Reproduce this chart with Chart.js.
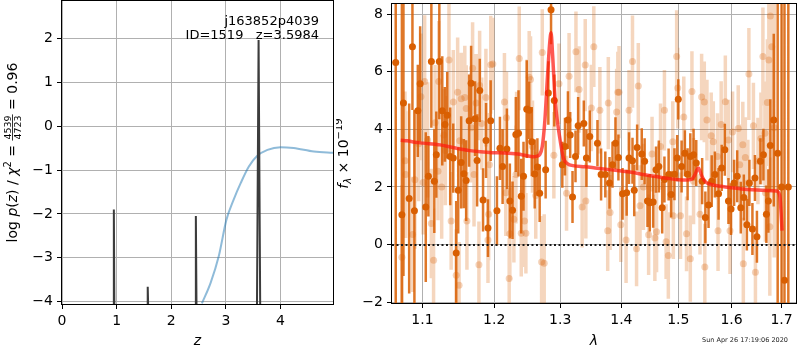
<!DOCTYPE html>
<html>
<head>
<meta charset="utf-8">
<script src="https://cdn.jsdelivr.net/npm/chart.js@4.4.1/dist/chart.umd.min.js"></script>
<style>
  body { margin: 0; background: #fff; }
  #wrap { position: relative; width: 800px; height: 350px; }
  canvas { position: absolute; top: 0; }
</style>
</head>
<body>
<div id="wrap">
  <canvas id="pz" width="336" height="350" style="left:0"></canvas>
  <canvas id="spec" width="464" height="350" style="left:336px"></canvas>
</div>
<script>
// ---- redshift panel ----
const zTicks = [0, 1, 2, 3, 4];
const logpTicks = [-4, -3, -2, -1, 0, 1, 2];
const peakZ = [0.949, 1.569, 2.45, 3.598];
const peakLogP = [-1.90, -3.66, -2.05, 1.96];
const peakWidth = [0.01, 0.01, 0.012, 0.03];
const pFloor = -4.2;
const chiZ = [2.56, 2.72, 2.87, 3.01, 3.14, 3.27, 3.42, 3.57, 3.76, 4.0, 4.24, 4.61, 4.98];
const chiVal = [-4.04, -3.57, -2.96, -2.13, -1.68, -1.30, -0.92, -0.68, -0.54, -0.48, -0.50, -0.58, -0.61];

// ---- spectrum panel ----
const waveTicks = [1.1, 1.2, 1.3, 1.4, 1.5, 1.6, 1.7];
const fluxTicks = [-2, 0, 2, 4, 6, 8];

const darkWave = [
  1.065, 1.073, 1.075, 1.0825, 1.0868, 1.0894, 1.0939, 1.0970, 1.1045, 1.1080,
  1.1120, 1.1160, 1.1187, 1.1228, 1.1268, 1.1305, 1.1336, 1.1377, 1.1419, 1.1460,
  1.1488, 1.1529, 1.1567, 1.1599, 1.1641, 1.1669, 1.1725, 1.1754, 1.1792, 1.1839,
  1.1882, 1.1910, 1.1949, 1.2040, 1.2084, 1.2123, 1.2186, 1.2230, 1.2270, 1.2319,
  1.2359, 1.2400, 1.2434, 1.2483, 1.2520, 1.2559, 1.2604, 1.2645, 1.2680, 1.2772,
  1.2814, 1.2856, 1.2907, 1.3033, 1.3075, 1.3122, 1.3158, 1.3195, 1.3243, 1.3285,
  1.3377, 1.3419, 1.3474, 1.360, 1.366, 1.373, 1.380, 1.385, 1.390, 1.395,
  1.402, 1.409, 1.413, 1.419, 1.422, 1.427, 1.435, 1.440, 1.445, 1.449,
  1.455, 1.460, 1.465, 1.471, 1.475, 1.4825, 1.487, 1.493, 1.498, 1.500,
  1.506, 1.512, 1.517, 1.522, 1.528, 1.533, 1.544, 1.550, 1.556, 1.562,
  1.568, 1.575, 1.581, 1.587, 1.594, 1.599, 1.605, 1.611, 1.618, 1.624,
  1.630, 1.635, 1.641, 1.646, 1.650, 1.657, 1.663, 1.669, 1.673, 1.677,
  1.684, 1.692, 1.700, 1.706, 1.714
];
const darkFlux = [
  6.32, 1.03, 4.91, 1.6, 6.87, 1.17, 4.64, 5.58, 1.30, 2.37,
  6.35, 2.20, 3.12, 6.35, 4.64, 4.17, 4.49, 3.06, 3.00, -0.29,
  1.88, 2.85, 2.46, 2.22, 4.30, 5.60, 4.37, 2.92, 5.35, 1.55,
  3.61, 0.57, 4.30, 1.17, 3.34, 2.71, 3.32, 1.51, 1.19, 3.82,
  3.86, 1.68, 2.37, 4.70, 4.66, 3.57, 2.45, 2.69, 1.78, 2.60,
  5.26, 8.15, 5.00, 2.77, 3.40, 4.32, 3.80, 1.65, 3.06, 4.12,
  4.20, 3.00, 3.75, 3.52, 2.43, 2.43, 2.14, 2.77, 3.52, 3.02,
  1.76, 1.80, 3.00, 2.91, 1.88, 3.37, 3.14, 2.89, 1.51, 1.45,
  1.48, 2.60, 2.71, 1.28, 2.26, 2.43, 1.74, 2.44, 3.00, 5.04,
  2.71, 3.17, 2.44, 3.06, 3.12, 2.83, 2.20, 0.94, 1.37, 2.20,
  2.43, 1.76, 2.66, 3.29, 1.51, 1.23, 2.14, 2.37, 1.28, 1.63,
  0.69, 2.14, 0.54, 2.31, 0.27, 2.89, 3.12, 1.05, 1.51, 3.44,
  4.32, 3.17, 2.0, -1.24, 2.0
];
const darkErr = [
  12, 9, 6, 3.3, 2.2, 3.5, 1.6, 2.0, 2.6, 1.4,
  2.3, 1.8, 1.5, 2.0, 1.9, 1.3, 1.5, 1.7, 1.2, 1.8,
  1.5, 1.6, 1.2, 1.4, 1.6, 1.3, 1.3, 1.6, 1.1, 1.1,
  1.3, 1.0, 1.4, 1.2, 1.1, 1.3, 1.4, 1.3, 1.0, 1.3,
  1.5, 1.3, 1.2, 1.7, 1.0, 1.2, 1.2, 1.0, 1.0, 1.0,
  1.1, 1.2, 0.9, 0.8, 1.0, 1.0, 0.8, 0.9, 0.9, 1.0,
  0.8, 1.0, 0.9, 0.8, 0.9, 0.8, 0.9, 0.8, 0.9, 0.8,
  0.9, 0.8, 0.9, 0.8, 0.9, 0.8, 0.9, 0.8, 0.9, 1.0,
  0.9, 0.8, 0.9, 0.9, 0.8, 0.9, 0.8, 0.9, 0.8, 0.7,
  0.9, 0.8, 0.9, 0.8, 0.9, 0.8, 0.8, 0.9, 0.8, 0.9,
  0.8, 0.9, 0.8, 0.9, 0.8, 0.9, 0.8, 0.9, 0.9, 0.8,
  0.9, 0.8, 0.9, 0.8, 0.9, 0.8, 0.9, 1.0, 1.1, 1.6,
  3.0, 6, 9, 10, 12
];

const lightWave = [
  1.073, 1.077, 1.078, 1.087, 1.090, 1.095, 1.098, 1.101, 1.103, 1.107,
  1.112, 1.115, 1.117, 1.121, 1.122, 1.126, 1.129, 1.131, 1.136, 1.139,
  1.142, 1.146, 1.148, 1.150, 1.151, 1.153, 1.158, 1.160, 1.161, 1.167,
  1.169, 1.171, 1.174, 1.178, 1.179, 1.182, 1.188, 1.191, 1.192, 1.193,
  1.195, 1.198, 1.215, 1.217, 1.218, 1.222, 1.223, 1.229, 1.232, 1.233,
  1.237, 1.240, 1.245, 1.247, 1.249, 1.252, 1.254, 1.257, 1.262, 1.271,
  1.272, 1.275, 1.290, 1.298, 1.310, 1.314, 1.325, 1.330, 1.335, 1.340,
  1.341, 1.350, 1.354, 1.364, 1.377, 1.378, 1.381, 1.392, 1.394, 1.396,
  1.399, 1.408, 1.413, 1.419, 1.426, 1.429, 1.432, 1.438, 1.447, 1.453,
  1.458, 1.461, 1.468, 1.475, 1.478, 1.482, 1.490, 1.491, 1.497, 1.499,
  1.504, 1.510, 1.515, 1.522, 1.525, 1.528, 1.540, 1.543, 1.548, 1.549,
  1.553, 1.561, 1.565, 1.573, 1.574, 1.580, 1.588, 1.594, 1.597, 1.602,
  1.613, 1.616, 1.622, 1.623, 1.627, 1.632, 1.634, 1.643, 1.647, 1.652,
  1.658, 1.662, 1.666, 1.667, 1.671, 1.674, 1.676, 1.677, 1.680, 1.685
];
const lightFlux = [
  -0.44, 2.91, 2.43, 0.35, 2.25, 3.50, 5.13, 2.15, 5.66, 3.63,
  0.73, -0.55, 4.23, 2.54, 5.66, 2.00, 3.80, 3.26, 6.41, 0.82,
  4.95, -1.07, 5.29, -1.41, 3.60, 5.06, 5.10, 4.72, 0.82, 4.05,
  6.12, 2.43, 4.91, -0.70, 5.52, 4.20, 5.10, 0.16, 1.05, 2.77,
  6.24, 6.27, 4.95, 1.80, 4.40, -1.18, 0.37, 0.88, 2.43, 3.80,
  6.46, 0.39, 0.82, 0.39, 4.72, 5.81, 5.73, 3.40, 1.70, -0.61,
  6.67, -0.65, 3.10, 5.58, 1.78, 5.84, 6.69, 5.38, 1.30, 6.23,
  1.51, 4.74, 6.87, 4.66, 0.48, 4.91, 1.11, 4.60, 5.29, 5.29,
  0.69, 0.16, 4.66, 6.35, -0.15, 5.50, 1.35, 2.00, 0.34, 3.14,
  0.23, 0.44, 3.40, 4.66, 0.10, -0.38, 3.57, 1.00, 6.53, 5.43,
  1.00, 4.43, 0.37, -0.49, 5.31, 2.20, 1.05, 5.12, 4.95, -0.78,
  4.32, 3.78, 3.57, 3.06, 0.48, 4.17, 4.96, 3.63, 0.48, 3.91,
  4.03, 2.77, 3.46, -0.67, 3.02, 2.14, 5.92, 4.12, -0.96, 2.90,
  3.68, 6.53, 3.86, 1.80, 4.93, 6.41, 0.62, 7.93, 6.87, 4.05
];
const lightErr = [
  2.5, 2.4, 2.2, 2.0, 2.4, 2.0, 2.2, 1.8, 2.3, 2.0,
  1.9, 1.8, 2.0, 1.7, 2.1, 1.8, 1.6, 1.9, 2.0, 1.7,
  1.8, 1.6, 1.9, 1.5, 1.7, 1.6, 1.8, 1.5, 1.7, 1.9,
  1.6, 1.8, 1.7, 1.5, 1.9, 1.6, 1.7, 1.5, 1.6, 1.8,
  1.7, 1.6, 1.7, 1.5, 1.6, 1.4, 1.6, 1.5, 1.7, 1.5,
  1.8, 1.5, 1.6, 1.4, 1.7, 1.6, 1.5, 1.6, 1.5, 1.6,
  1.5, 1.7, 1.5, 1.4, 1.3, 1.5, 1.4, 1.5, 1.4, 1.6,
  1.3, 1.5, 1.4, 1.5, 1.4, 1.6, 1.3, 1.5, 1.4, 1.6,
  1.3, 1.5, 1.4, 1.6, 1.3, 1.5, 1.4, 1.5, 1.4, 1.3,
  1.5, 1.4, 1.5, 1.4, 1.3, 1.5, 1.4, 1.5, 1.6, 1.4,
  1.5, 1.4, 1.3, 1.5, 1.4, 1.5, 1.4, 1.5, 1.4, 1.5,
  1.4, 1.5, 1.4, 1.5, 1.4, 1.5, 1.6, 1.4, 1.5, 1.4,
  1.5, 1.4, 1.5, 1.6, 1.4, 1.5, 1.6, 1.5, 1.6, 1.5,
  1.6, 1.7, 1.8, 1.7, 2.2, 2.5, 2.4, 3.0, 3.5, 4.5
];

const modelWave = [
  1.0715, 1.080, 1.090, 1.101, 1.124, 1.145, 1.165, 1.180, 1.197, 1.215,
  1.235, 1.247, 1.258, 1.264, 1.268, 1.272, 1.276, 1.280, 1.2835, 1.2856,
  1.288, 1.292, 1.296, 1.300, 1.305, 1.312, 1.320, 1.340, 1.356, 1.380,
  1.400, 1.420, 1.440, 1.460, 1.480, 1.500, 1.515, 1.524, 1.530, 1.534,
  1.537, 1.540, 1.544, 1.550, 1.560, 1.580, 1.600, 1.620, 1.640, 1.660,
  1.680, 1.690, 1.694, 1.697, 1.699, 1.701
];
const modelFlux = [
  3.62, 3.60, 3.55, 3.52, 3.46, 3.35, 3.26, 3.22, 3.19, 3.18,
  3.14, 3.09, 3.05, 3.07, 3.12, 3.40, 4.30, 5.80, 7.00, 7.35,
  6.60, 5.00, 4.20, 3.60, 3.00, 2.80, 2.74, 2.70, 2.66, 2.60,
  2.55, 2.50, 2.42, 2.36, 2.30, 2.25, 2.24, 2.26, 2.40, 2.58,
  2.66, 2.55, 2.35, 2.18, 2.09, 2.02, 1.97, 1.93, 1.90, 1.88,
  1.87, 1.86, 1.80, 1.60, 1.10, 0.48
];

const FONT = '"DejaVu Sans", sans-serif';
const font = (size, style) => (style ? style + ' ' : '') + size + 'px ' + FONT;
const minus = v => (v < 0 ? '\u2212' : '') + Math.abs(v);

function points(xs, ys) {
  return xs.map((x, i) => ({ x: x, y: ys[i] }));
}

// vertical error segments, broken apart by null points
function errorSegments(xs, ys, es) {
  const out = [];
  xs.forEach((x, i) => {
    out.push({ x: x, y: ys[i] - es[i] }, { x: x, y: ys[i] + es[i] }, { x: x, y: null });
  });
  return out;
}

function spikes() {
  const out = [];
  peakZ.forEach((z, i) => {
    const w = peakWidth[i];
    out.push({ x: z - w, y: pFloor }, { x: z, y: peakLogP[i] }, { x: z + w, y: pFloor }, { x: z + w, y: null });
  });
  return out;
}

// draws a rotated axis label made of runs of text (sub/superscripts, a small fraction)
function drawRuns(ctx, runs, cx, cy) {
  ctx.save();
  ctx.translate(cx, cy);
  ctx.rotate(-Math.PI / 2);
  ctx.fillStyle = '#000';
  ctx.textBaseline = 'alphabetic';
  let total = 0;
  for (const r of runs) {
    ctx.font = r.font;
    r.w = r.num
      ? Math.max(ctx.measureText(r.num).width, ctx.measureText(r.den).width) + 2
      : ctx.measureText(r.text).width;
    total += r.w;
  }
  let x = -total / 2;
  for (const r of runs) {
    ctx.font = r.font;
    if (r.num) {
      ctx.textAlign = 'center';
      ctx.fillText(r.num, x + r.w / 2, -6);
      ctx.fillText(r.den, x + r.w / 2, 3.6);
      ctx.fillRect(x, -5, r.w, 0.8);
    } else {
      ctx.textAlign = 'left';
      ctx.fillText(r.text, x, r.dy || 0);
    }
    x += r.w;
  }
  ctx.restore();
}

function frame(chart) {
  const { ctx, chartArea: a } = chart;
  ctx.save();
  ctx.strokeStyle = '#000';
  ctx.lineWidth = 1;
  const x0 = Math.round(a.left) - 0.5, y0 = Math.round(a.top) - 0.5;
  const x1 = Math.round(a.right) + 0.5, y1 = Math.round(a.bottom) + 0.5;
  ctx.strokeRect(x0, y0, x1 - x0, y1 - y0);
  ctx.restore();
}

function axis(min, max, ticks, size, type) {
  return {
    type: type || 'linear',
    min: min,
    max: max,
    bounds: 'data',
    afterBuildTicks: s => { s.ticks = ticks.map(v => ({ value: v })); },
    afterFit: s => {
      // fixed axis band, no extra room reserved for edge labels
      if (s.isHorizontal()) s.height = size; else s.width = size;
      s.paddingTop = 0; s.paddingBottom = 0; s.paddingLeft = 0; s.paddingRight = 0;
    },
    ticks: {
      color: '#000',
      font: { family: FONT, size: 14 },
      padding: 4,
      maxRotation: 0,
      autoSkip: false,
      callback: v => minus(v)
    },
    grid: { color: '#b0b0b0', lineWidth: 1, tickColor: '#000', tickLength: 5, drawTicks: true },
    border: { display: false }
  };
}

const baseOptions = {
  responsive: false,
  animation: false,
  events: [],
  plugins: { legend: { display: false }, tooltip: { enabled: false } }
};

const pzChart = new Chart(document.getElementById('pz'), {
  type: 'scatter',
  data: {
    datasets: [
      {
        data: spikes(), showLine: true, spanGaps: false, pointRadius: 0,
        borderColor: '#3c3c3c', borderWidth: 2, borderJoinStyle: 'bevel', order: 0
      },
      {
        data: points(chiZ, chiVal), showLine: true, pointRadius: 0,
        borderColor: 'rgba(31,119,180,0.5)', borderWidth: 2,
        cubicInterpolationMode: 'monotone', order: 1
      }
    ]
  },
  options: {
    ...baseOptions,
    layout: { padding: { top: 1, right: 3, left: 0, bottom: 0 } },
    scales: {
      x: axis(0, 4.96, zTicks, 46),
      y: axis(-4.052, 2.85, logpTicks, 62)
    }
  },
  plugins: [{
    id: 'pzDecor',
    afterDatasetsDraw: frame,
    afterDraw(chart) {
      const ctx = chart.ctx;
      ctx.save();
      ctx.fillStyle = '#000';
      ctx.font = font(13);
      ctx.textAlign = 'right';
      ctx.textBaseline = 'alphabetic';
      ctx.fillText('j163852p4039', 319, 25);
      ctx.fillText('ID=1519   z=3.5984', 319, 38.5);
      ctx.font = font(14, 'italic');
      ctx.textAlign = 'center';
      const a = chart.chartArea;
      ctx.fillText('z', (a.left + a.right) / 2, 345);
      ctx.restore();
      drawRuns(ctx, [
        { text: 'log ', font: font(14) },
        { text: 'p', font: font(14, 'italic') },
        { text: '(', font: font(14) },
        { text: 'z', font: font(14, 'italic') },
        { text: ') / ', font: font(14) },
        { text: '\u03c7', font: font(14, 'italic') },
        { text: '2', font: font(10), dy: -6 },
        { text: ' = ', font: font(14) },
        { num: '4539', den: '4723', font: font(9.5) },
        { text: ' = 0.96', font: font(14) }
      ], 17, (a.top + a.bottom) / 2);
    }
  }]
});

const specChart = new Chart(document.getElementById('spec'), {
  type: 'scatter',
  data: {
    datasets: [
      {
        data: points(modelWave, modelFlux), showLine: true, pointRadius: 0,
        borderColor: 'rgba(255,25,15,0.72)', borderWidth: 3.5,
        cubicInterpolationMode: 'monotone', order: 0
      },
      {
        data: points(darkWave, darkFlux), pointRadius: 3.5, pointBorderWidth: 0,
        backgroundColor: '#d95f02', order: 1
      },
      {
        data: errorSegments(darkWave, darkFlux, darkErr), showLine: true, spanGaps: false,
        pointRadius: 0, borderColor: 'rgba(217,95,2,0.85)', borderWidth: 2.5, order: 2
      },
      {
        data: points(lightWave, lightFlux), pointRadius: 3.5, pointBorderWidth: 0,
        backgroundColor: 'rgba(217,95,2,0.28)', order: 3
      },
      {
        data: errorSegments(lightWave, lightFlux, lightErr), showLine: true, spanGaps: false,
        pointRadius: 0, borderColor: 'rgba(217,95,2,0.26)', borderWidth: 3.5, order: 4
      }
    ]
  },
  options: {
    ...baseOptions,
    layout: { padding: { top: 1, right: 1, left: 0, bottom: 0 } },
    scales: {
      x: {
        ...axis(1.0602, 1.730, waveTicks, 47, 'logarithmic'),
        ticks: {
          color: '#000', font: { family: FONT, size: 14 }, padding: 4,
          maxRotation: 0, autoSkip: false, callback: v => Number(v).toFixed(1)
        }
      },
      y: axis(-2.03, 8.35, fluxTicks, 56)
    }
  },
  plugins: [{
    id: 'specDecor',
    afterDatasetsDraw(chart) {
      const { ctx, chartArea: a, scales } = chart;
      const y0 = Math.round(scales.y.getPixelForValue(0));
      ctx.save();
      ctx.beginPath();
      ctx.rect(a.left, a.top, a.right - a.left, a.bottom - a.top);
      ctx.clip();
      ctx.strokeStyle = '#1a1a1a';
      ctx.lineWidth = 2;
      ctx.setLineDash([2, 2.5]);
      ctx.beginPath();
      ctx.moveTo(a.left, y0);
      ctx.lineTo(a.right, y0);
      ctx.stroke();
      ctx.restore();
      frame(chart);
    },
    afterDraw(chart) {
      const { ctx, chartArea: a } = chart;
      ctx.save();
      ctx.fillStyle = '#000';
      ctx.font = font(14, 'italic');
      ctx.textAlign = 'center';
      ctx.textBaseline = 'alphabetic';
      ctx.fillText('\u03bb', (a.left + a.right) / 2, 345);
      ctx.font = font(6.5);
      ctx.textAlign = 'right';
      ctx.fillStyle = '#222';
      ctx.fillText('Sun Apr 26 17:19:06 2020', 452, 342);
      ctx.restore();
      drawRuns(ctx, [
        { text: 'f', font: font(14, 'italic') },
        { text: '\u03bb', font: font(10, 'italic'), dy: 3 },
        { text: ' \u00d7 10', font: font(14) },
        { text: '\u221219', font: font(10), dy: -6 }
      ], 12, (a.top + a.bottom) / 2);
    }
  }]
});
</script>
</body>
</html>
